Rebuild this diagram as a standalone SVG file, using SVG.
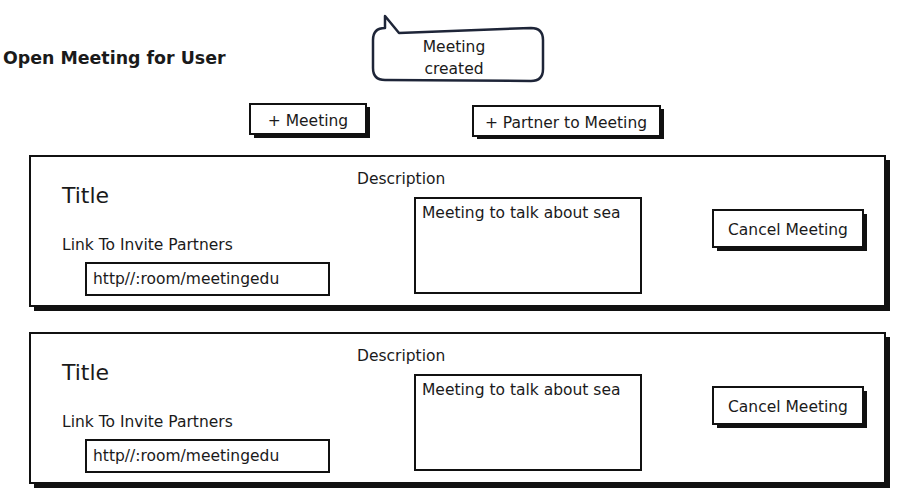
<svg xmlns="http://www.w3.org/2000/svg" width="910" height="500" viewBox="0 0 910 500">
<style>
text{font-family:"DejaVu Sans","Liberation Sans",sans-serif;fill:#1a1a1a}
.h{font-size:17.4px;font-weight:bold}
.t{font-size:15.5px}
.big{font-size:22px}
.box{fill:#fff;stroke:#111;stroke-width:2}
.shadow{fill:#111}
</style>
<rect width="910" height="500" fill="#fff"/>
<g id="heading"><text class="h" x="3" y="64">Open Meeting for User</text></g>
<g id="callout">
<path d="M385,28 L385,16 L399,33 L531,28 Q543,28 543,40 L543,69 Q543,81 531,81 L385,80 Q373,80 373,68 L373,40 Q373,28 385,28 Z" fill="#fff" stroke="#1e2538" stroke-width="2.5" stroke-linejoin="round"/>
<text class="t" x="454" y="52" text-anchor="middle">Meeting</text>
<text class="t" x="454" y="74" text-anchor="middle">created</text>
</g>
<g id="btn-meeting">
<rect class="shadow" x="254" y="107" width="116" height="31"/>
<rect class="box" x="250" y="104" width="116" height="30"/>
<text class="t" x="308" y="126" text-anchor="middle">+ Meeting</text>
</g>
<g id="btn-partner">
<rect class="shadow" x="477" y="109" width="187" height="30"/>
<rect class="box" x="473" y="106" width="187" height="30"/>
<text class="t" x="566" y="128" text-anchor="middle">+ Partner to Meeting</text>
</g>
<g id="panel-1">
<rect class="shadow" x="34" y="160" width="856" height="151"/>
<rect class="box" x="30" y="156" width="855" height="150"/>
<text class="big" x="62" y="203">Title</text>
<text class="t" x="357" y="184">Description</text>
<text class="t" x="62" y="250">Link To Invite Partners</text>
<rect class="box" x="86" y="263" width="243" height="32"/>
<text class="t" x="93" y="284">http//:room/meetingedu</text>
<rect class="box" x="415" y="198" width="226" height="95"/>
<text class="t" x="422" y="218">Meeting to talk about sea</text>
<rect class="shadow" x="717" y="214" width="150" height="37"/>
<rect class="box" x="713" y="210" width="150" height="37"/>
<text class="t" x="788" y="235" text-anchor="middle">Cancel Meeting</text>
</g>
<g id="panel-2">
<rect class="shadow" x="34" y="337" width="856" height="151"/>
<rect class="box" x="30" y="333" width="855" height="150"/>
<text class="big" x="62" y="380">Title</text>
<text class="t" x="357" y="361">Description</text>
<text class="t" x="62" y="427">Link To Invite Partners</text>
<rect class="box" x="86" y="440" width="243" height="32"/>
<text class="t" x="93" y="461">http//:room/meetingedu</text>
<rect class="box" x="415" y="375" width="226" height="95"/>
<text class="t" x="422" y="395">Meeting to talk about sea</text>
<rect class="shadow" x="717" y="391" width="150" height="37"/>
<rect class="box" x="713" y="387" width="150" height="37"/>
<text class="t" x="788" y="412" text-anchor="middle">Cancel Meeting</text>
</g>
<g id="connectors"/>
</svg>
